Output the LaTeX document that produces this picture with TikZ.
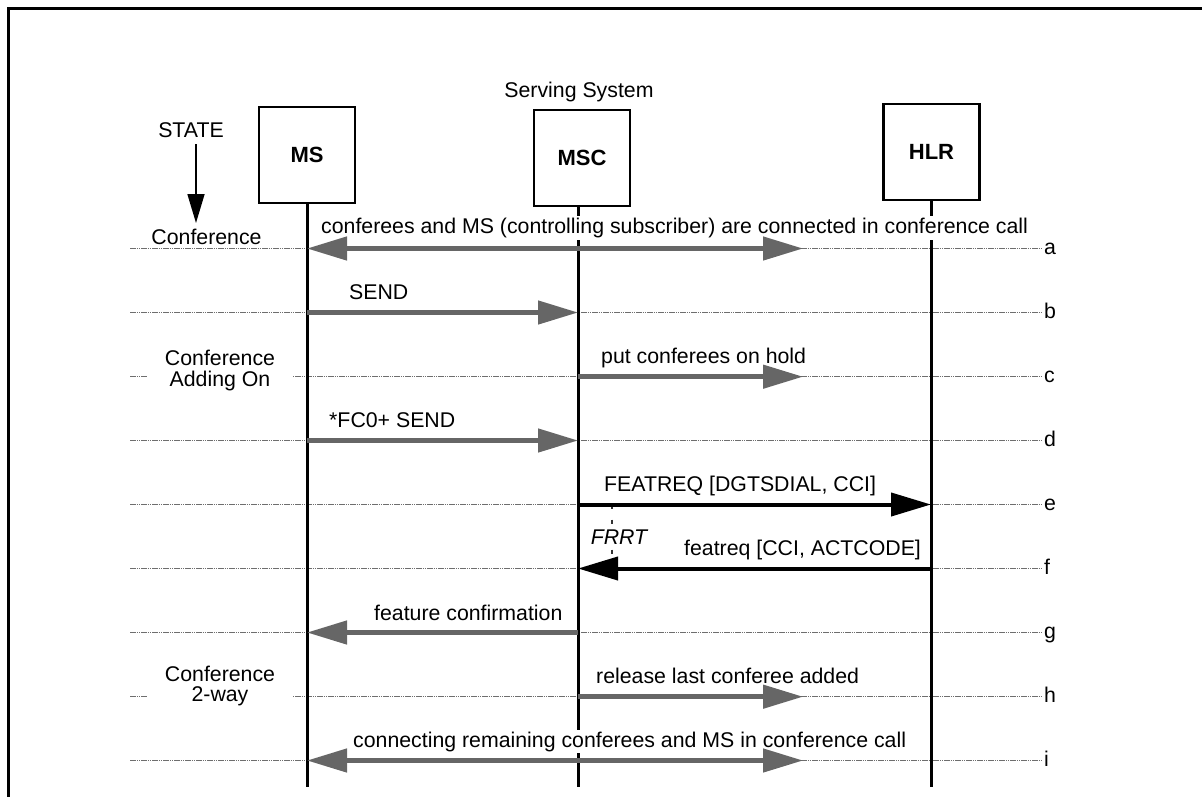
\documentclass[tikz,border=0pt]{standalone}
\usepackage{fontspec}
\setmainfont{Liberation Sans}
\usetikzlibrary{arrows.meta}
\definecolor{agray}{RGB}{102,102,102}
\definecolor{dgray}{RGB}{110,110,110}
\tikzset{
  rowline/.style={draw=dgray, line width=1.1pt, dash pattern=on 1.6pt off 0.6pt},
  life/.style={draw=black, line width=3pt},
  box/.style={draw=black, line width=2.5pt, minimum width=96pt, minimum height=96pt, inner sep=0pt, font=\fontsize{22}{26}\selectfont\bfseries},
  msglbl/.style={fill=white, inner xsep=1pt, inner ysep=2pt, anchor=base west},
  rowlbl/.style={inner sep=0pt, anchor=base west},
  statebox/.style={fill=white, align=center, inner xsep=18pt, inner ysep=1pt, font=\fontsize{21.3}{20.5}\selectfont},
  garrow/.style={draw=agray, fill=agray, line width=4.6pt, -{Triangle[length=40pt,width=23pt]}},
  garrowd/.style={draw=agray, fill=agray, line width=4.6pt, {Triangle[length=40pt,width=23pt]}-{Triangle[length=40pt,width=23pt]}},
  barrow/.style={draw=black, fill=black, line width=4pt, -{Triangle[length=40pt,width=23pt]}},
  statearrow/.style={draw=black, line width=1.6pt, -{Triangle[length=29pt,width=17pt]}},
  frrtline/.style={draw=black!80, line width=1.5pt, dash pattern=on 4pt off 11pt}
}
\begin{document}
\begin{tikzpicture}[x=1pt,y=-1pt,font=\fontsize{21.3}{25}\selectfont]
\useasboundingbox (0,0) rectangle (1202,796);
% frame
\draw[line width=3pt] (8.5,800) -- (8.5,8.5) -- (1210,8.5);

% rows
\foreach \r/\yy in {a/248.5,b/312.5,c/376.7,d/440.5,e/504.5,f/568.5,g/632.5,h/696.7,i/760.5}{
  \coordinate (L-\r) at (130,\yy);
  \coordinate (R-\r) at (1042,\yy);
  \coordinate (MS-\r) at (307,\yy);
  \coordinate (MSC-\r) at (578,\yy);
  \coordinate (HLR-\r) at (931,\yy);
  \coordinate (CF-\r) at (803,\yy);
  \draw[rowline] (L-\r) -- (R-\r);
  \node[rowlbl] (lbl-\r) at (1044,{\yy+6}) {\r};
}

% header
\node[anchor=base] (serving) at (579,97) {Serving System};
\node[box] (MS) at (307,155) {MS};
\node[box] (MSC) at (582,158) {MSC};
\node[box] (HLR) at (931.5,152) {HLR};

% lifelines
\coordinate (MSbot) at (307,787);
\coordinate (MSCbot) at (578,787);
\coordinate (HLRbot) at (931,787);
\draw[life] (MS.south) -- (MSbot);
\draw[life] (MSC.south -| MSCbot) -- (MSCbot);
\draw[life] (HLR.south -| HLRbot) -- (HLRbot);

% states
\node (st0) at (191,130.5) {STATE};
\coordinate (stA) at (196,144);
\coordinate (stB) at (196,223);
\draw[statearrow] (stA) -- (stB);
\node (st1) at (206.5,237) {Conference};
\node[statebox] (st2) at (220,370.5) {Conference\\Adding On};
\node[statebox] (st3) at (220,686) {Conference\\2-way};

% FRRT
\coordinate (fr1) at (612,504.5);
\coordinate (fr2) at (612,568.5);
\draw[frrtline] (fr1) -- (fr2);
\node[fill=white, inner sep=1pt, font=\fontsize{21.3}{25}\selectfont\itshape] (frrt) at (619,537) {FRRT};

% message labels
\node[msglbl] (ma) at (320,233.5) {conferees and MS (controlling subscriber) are connected in conference call};
\node[msglbl] (mb) at (348,299) {SEND};
\node[msglbl] (mc) at (600,363.5) {put conferees on hold};
\node[msglbl] (md) at (328,427) {*FC0+ SEND};
\node[msglbl] (me) at (603,491) {FEATREQ [DGTSDIAL, CCI]};
\node[msglbl] (mf) at (683,555) {featreq [CCI, ACTCODE]};
\node[msglbl] (mg) at (373,620) {feature confirmation};
\node[msglbl] (mh) at (595,683.5) {release last conferee added};
\node[msglbl] (mi) at (352,747) {connecting remaining conferees and MS in conference call};

% arrows
\draw[garrowd] (MS-a) -- (CF-a);
\draw[garrow] (MS-b) -- (MSC-b);
\draw[garrow] (MSC-c) -- (CF-c);
\draw[garrow] (MS-d) -- (MSC-d);
\draw[barrow] (MSC-e) -- (HLR-e);
\draw[barrow] (HLR-f) -- (MSC-f);
\draw[garrow] (MSC-g) -- (MS-g);
\draw[garrow] (MSC-h) -- (CF-h);
\draw[garrowd] (MS-i) -- (CF-i);
\end{tikzpicture}
\end{document}
